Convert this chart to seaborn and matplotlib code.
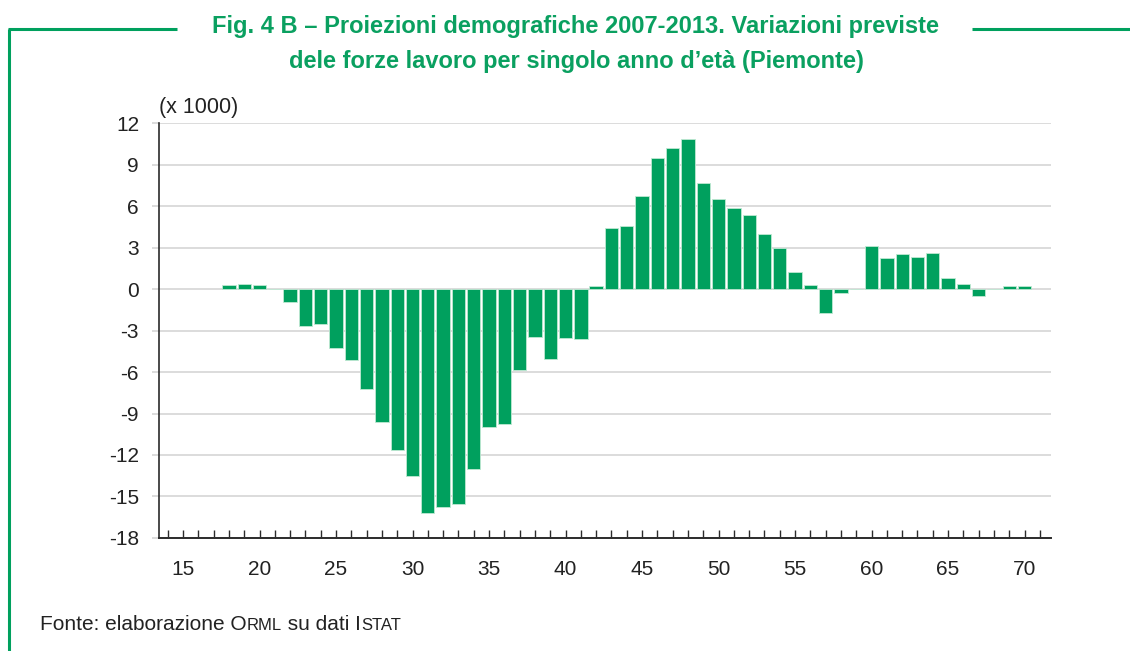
import matplotlib
matplotlib.use("Agg")
import matplotlib.pyplot as plt
import seaborn as sns
import pandas as pd
from matplotlib.lines import Line2D

# 数据: 各年龄的劳动力变化 (x 1000)
ages = list(range(18, 71))
values = [0.29, 0.34, 0.26, 0.0, -0.91, -2.69, -2.55, -4.26, -5.10, -7.24,
          -9.60, -11.62, -13.50, -16.17, -15.74, -15.54, -13.02, -9.96, -9.75, -5.85,
          -3.44, -5.08, -3.56, -3.61, 0.21, 4.39, 4.54, 6.70, 9.48, 10.22,
          10.82, 7.68, 6.48, 5.88, 5.38, 4.01, 2.93, 1.25, 0.31, -1.70,
          -0.26, 0.0, 3.14, 2.21, 2.52, 2.30, 2.59, 0.77, 0.36, -0.50,
          0.0, 0.22, 0.22]
y_ticks = list(range(-18, 13, 3))
x_ticks = list(range(14, 72))
x_labels = [str(a) if a % 5 == 0 else '' for a in x_ticks]

GREEN = '#00A05E'
TEXT_GREEN = '#0AA060'
GRID = '#d9d9d9'
DARK = '#2b2b2b'

sns.set_style('white')
plt.rcParams['font.family'] = ['Liberation Sans', 'DejaVu Sans']
plt.rcParams['axes.unicode_minus'] = False

fig = plt.figure(figsize=(11.3, 6.51), dpi=100)
ax = fig.add_axes([0.1403, 0.1736, 0.930 - 0.1403, 0.811 - 0.1736])

df = pd.DataFrame({'age': ages, 'val': values})
sns.barplot(data=df, x='age', y='val', native_scale=True, color=GREEN,
            saturation=1, width=0.87, edgecolor='#bfe9d3', linewidth=0.6, ax=ax)

ax.set_xlim(13.4, 71.72)
ax.set_ylim(-18, 12)
ax.set_yticks(y_ticks)
ax.set_yticklabels([str(v) for v in y_ticks], fontsize=15, color='#222222')
ax.set_xticks(x_ticks)
ax.set_xticklabels(x_labels, fontsize=15, color='#222222')
ax.set_xlabel('')
ax.set_ylabel('')

ax.set_axisbelow(True)
ax.yaxis.grid(True, color=GRID, linewidth=1.3)
ax.xaxis.grid(False)
for s in ['top', 'right']:
    ax.spines[s].set_visible(False)
ax.spines['left'].set_color(DARK)
ax.spines['left'].set_linewidth(1.2)
ax.spines['bottom'].set_color(DARK)
ax.spines['bottom'].set_linewidth(1.4)
ax.spines['bottom'].set_zorder(5)

ax.tick_params(axis='y', left=True, direction='out', length=5, width=1.3, color=GRID, pad=9)
ax.tick_params(axis='x', bottom=True, direction='in', length=6, width=1.0, color=DARK, pad=16)

ax.text(0.0, 1.012, '(x 1000)', transform=ax.transAxes, fontsize=15.5,
        color='#222222', ha='left', va='bottom')

# 标题
fig.text(0.509, 1 - 33 / 651, 'Fig. 4 B – Proiezioni demografiche 2007-2013. Variazioni previste',
         fontsize=17, fontweight='bold', color=TEXT_GREEN, ha='center', va='baseline')
fig.text(0.510, 1 - 68 / 651, 'dele forze lavoro per singolo anno d’età (Piemonte)',
         fontsize=17, fontweight='bold', color=TEXT_GREEN, ha='center', va='baseline')

# 绿色边框线
yl = 1 - 29 / 651
fig.add_artist(Line2D([9 / 1130, 9 / 1130], [0, yl], transform=fig.transFigure,
                      color=GREEN, linewidth=2.2, solid_capstyle='butt'))
fig.add_artist(Line2D([8.2 / 1130, 177 / 1130], [yl, yl], transform=fig.transFigure,
                      color=GREEN, linewidth=2.2, solid_capstyle='butt'))
fig.add_artist(Line2D([972 / 1130, 1.0], [yl, yl], transform=fig.transFigure,
                      color=GREEN, linewidth=2.2, solid_capstyle='butt'))

# 来源 (小型大写字母)
pieces = [('Fonte: elaborazione O', 15), ('RML', 12), (' su dati I', 15), ('STAT', 12)]
renderer = fig.canvas.get_renderer()
x = 40.5
for txt, fs in pieces:
    t = fig.text(x / 1130, 1 - 630 / 651, txt, fontsize=fs, color='#222222',
                 ha='left', va='baseline')
    bb = t.get_window_extent(renderer=renderer)
    x += bb.width

fig.savefig('out.png', dpi=100)
